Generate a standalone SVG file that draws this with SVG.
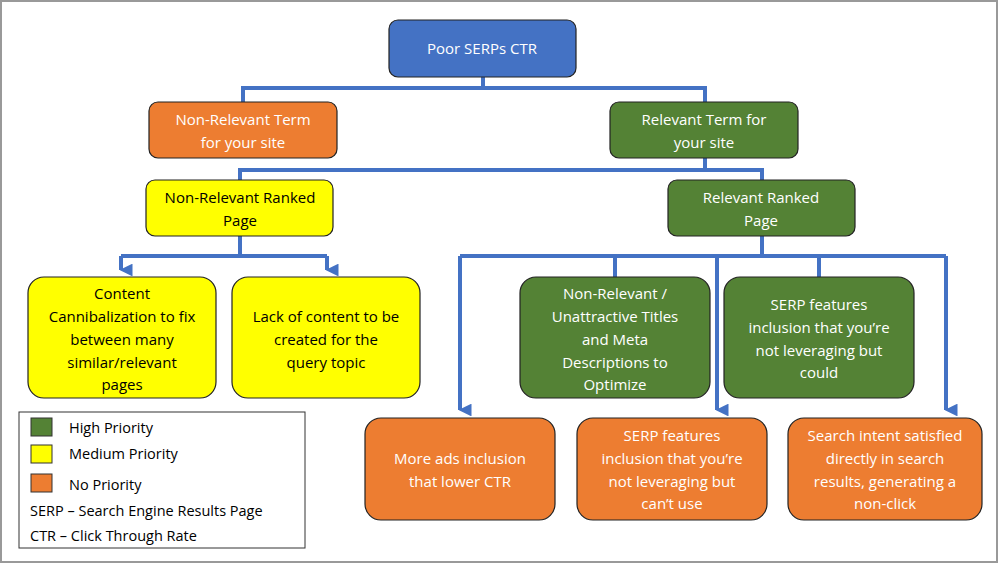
<svg xmlns="http://www.w3.org/2000/svg" width="1000" height="565" viewBox="0 0 1000 565">
<style>
.n{stroke:#222;stroke-width:1.2}
.b{fill:#4472C4}.o{fill:#ED7D31}.g{fill:#548235}.y{fill:#FFFF00}
text{font-family:"Open Sans","Liberation Sans",sans-serif;font-size:15px;text-anchor:middle}
.w{fill:#fff}.k{fill:#000}
.c{stroke:#4472C4;stroke-width:4;fill:none}
.lg{font-size:14.5px;text-anchor:start;fill:#000}
</style>
<defs><marker id="a" viewBox="0 0 10 10" refX="5" refY="9" markerWidth="3.2" markerHeight="3.2" orient="auto-start-reverse" markerUnits="strokeWidth"><path d="M0,0 L10,0 L5,10 Z" fill="#4472C4"/></marker></defs>
<rect x="0" y="0" width="1000" height="565" fill="#fff"/>
<rect x="1" y="1" width="996" height="561" fill="none" stroke="#999" stroke-width="2"/>
<g id="connectors">
<path class="c" d="M483,77 V88 M243,102 V88 H705 V102"/>
<path class="c" d="M705,158 V170 M240,180 V170 H762 V180"/>
<path class="c" d="M240,236 V256 M121,256 H327"/>
<path class="c" d="M121,256 V270" marker-end="url(#a)"/>
<path class="c" d="M327,256 V270" marker-end="url(#a)"/>
<path class="c" d="M762,236 V256 M460,256 H946 M615,256 V277 M819,256 V277"/>
<path class="c" d="M460,256 V410" marker-end="url(#a)"/>
<path class="c" d="M717,256 V410" marker-end="url(#a)"/>
<path class="c" d="M946,256 V410" marker-end="url(#a)"/>
</g>
<g id="root"><rect class="n b" x="389" y="20" width="187" height="57" rx="9"/><text class="w" x="482" y="54">Poor SERPs CTR</text></g>
<g id="nrterm"><rect class="n o" x="149" y="102" width="188" height="56" rx="9"/><text class="w" x="243" y="125">Non-Relevant Term</text><text class="w" x="243" y="148">for your site</text></g>
<g id="rterm"><rect class="n g" x="610" y="102" width="188" height="56" rx="9"/><text class="w" x="704" y="125">Relevant Term for</text><text class="w" x="704" y="148">your site</text></g>
<g id="nrpage"><rect class="n y" x="146" y="180" width="187" height="56" rx="9"/><text class="k" x="240" y="203">Non-Relevant Ranked</text><text class="k" x="240" y="226">Page</text></g>
<g id="rpage"><rect class="n g" x="668" y="180" width="187" height="56" rx="9"/><text class="w" x="761" y="203">Relevant Ranked</text><text class="w" x="761" y="226">Page</text></g>
<g id="cannib"><rect class="n y" x="28" y="277" width="188" height="121" rx="16"/><text class="k" x="122" y="299">Content</text><text class="k" x="122" y="322">Cannibalization to fix</text><text class="k" x="122" y="345">between many</text><text class="k" x="122" y="368">similar/relevant</text><text class="k" x="122" y="390">pages</text></g>
<g id="lack"><rect class="n y" x="232" y="277" width="188" height="121" rx="16"/><text class="k" x="326" y="322">Lack of content to be</text><text class="k" x="326" y="345">created for the</text><text class="k" x="326" y="368">query topic</text></g>
<g id="titles"><rect class="n g" x="520" y="277" width="190" height="121" rx="16"/><text class="w" x="615" y="299">Non-Relevant /</text><text class="w" x="615" y="322">Unattractive Titles</text><text class="w" x="615" y="345">and Meta</text><text class="w" x="615" y="368">Descriptions to</text><text class="w" x="615" y="390">Optimize</text></g>
<g id="serpcould"><rect class="n g" x="724" y="277" width="190" height="121" rx="16"/><text class="w" x="819" y="310">SERP features</text><text class="w" x="819" y="333">inclusion that you’re</text><text class="w" x="819" y="356">not leveraging but</text><text class="w" x="819" y="378">could</text></g>
<g id="ads"><rect class="n o" x="365" y="418" width="190" height="102" rx="16"/><text class="w" x="460" y="464">More ads inclusion</text><text class="w" x="460" y="487">that lower CTR</text></g>
<g id="serpcant"><rect class="n o" x="577" y="418" width="190" height="102" rx="16"/><text class="w" x="672" y="441">SERP features</text><text class="w" x="672" y="464">inclusion that you’re</text><text class="w" x="672" y="487">not leveraging but</text><text class="w" x="672" y="509">can’t use</text></g>
<g id="intent"><rect class="n o" x="788" y="418" width="194" height="102" rx="16"/><text class="w" x="885" y="441">Search intent satisfied</text><text class="w" x="885" y="464">directly in search</text><text class="w" x="885" y="487">results, generating a</text><text class="w" x="885" y="509">non-click</text></g>
<g id="legend"><rect x="19" y="412" width="286" height="136" fill="#fff" stroke="#333" stroke-width="1"/>
<rect x="31" y="418" width="21" height="18" fill="#548235" stroke="#333"/>
<rect x="31" y="445" width="21" height="18" fill="#FFFF00" stroke="#333"/>
<rect x="31" y="474" width="21" height="18" fill="#ED7D31" stroke="#333"/>
<text class="lg" x="69" y="433">High Priority</text>
<text class="lg" x="69" y="459">Medium Priority</text>
<text class="lg" x="69" y="490">No Priority</text>
<text class="lg" x="30" y="516">SERP – Search Engine Results Page</text>
<text class="lg" x="30" y="541">CTR – Click Through Rate</text></g>
</svg>
